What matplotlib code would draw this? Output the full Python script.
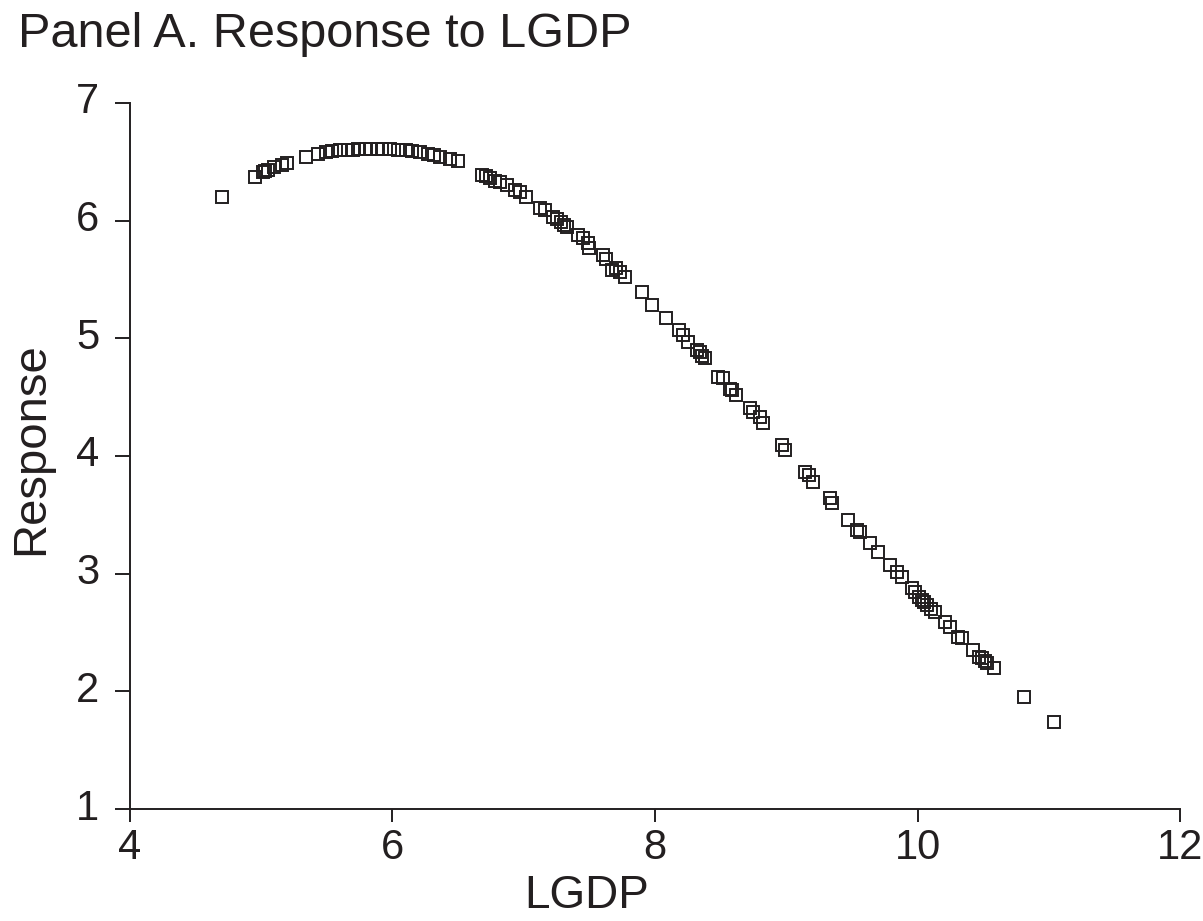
import matplotlib.pyplot as plt
import matplotlib.transforms as mtransforms

# Points (LGDP, Response)
lgdp = [
    4.70, 4.95, 5.01, 5.05, 5.10, 5.16, 5.20, 5.34, 5.43, 5.49,
    5.54, 5.60, 5.66, 5.74, 5.80, 5.84, 5.92, 5.98, 6.04, 6.10,
    6.15, 6.21, 6.27, 6.32, 6.36, 6.44, 6.50, 6.68, 6.74, 6.82,
    6.87, 6.93, 6.97, 7.02, 7.12, 7.16, 7.22, 7.28, 7.31, 7.41,
    7.45, 7.49, 7.50, 7.60, 7.63, 7.70, 7.73, 7.77, 7.90, 7.98,
    8.08, 8.18, 8.21, 8.25, 8.34, 8.38, 8.48, 8.52, 8.59, 8.62,
    8.72, 8.75, 8.80, 8.82, 8.97, 8.99, 9.14, 9.17, 9.20, 9.33,
    9.35, 9.47, 9.54, 9.56, 9.64, 9.70, 9.79, 9.84, 9.88, 9.96,
    10.03, 10.07, 10.13, 10.21, 10.25, 10.31, 10.34, 10.42, 10.49, 10.53,
    10.58, 10.81, 11.04,
    # extra overlapping points in dense clusters
    5.03, 5.70, 5.88, 6.71, 6.78, 7.25, 7.33, 7.67, 8.32, 8.36,
    8.57, 9.98, 10.01, 10.05, 10.10, 10.47, 10.51,
]
response = [
    6.20, 6.37, 6.41, 6.43, 6.46, 6.47, 6.49, 6.54, 6.57, 6.58,
    6.59, 6.60, 6.60, 6.61, 6.61, 6.61, 6.61, 6.61, 6.60, 6.60,
    6.59, 6.58, 6.57, 6.56, 6.54, 6.52, 6.51, 6.39, 6.36, 6.33,
    6.30, 6.26, 6.24, 6.20, 6.11, 6.09, 6.03, 5.99, 5.96, 5.88,
    5.85, 5.81, 5.77, 5.71, 5.67, 5.60, 5.56, 5.52, 5.39, 5.28,
    5.17, 5.07, 5.03, 4.97, 4.88, 4.83, 4.67, 4.66, 4.56, 4.52,
    4.41, 4.37, 4.33, 4.28, 4.09, 4.05, 3.86, 3.84, 3.78, 3.64,
    3.60, 3.46, 3.37, 3.35, 3.26, 3.18, 3.07, 3.01, 2.97, 2.88,
    2.78, 2.73, 2.67, 2.59, 2.55, 2.46, 2.45, 2.35, 2.28, 2.24,
    2.20, 1.95, 1.74,
    6.42, 6.60, 6.61, 6.38, 6.34, 6.01, 5.95, 5.58, 4.90, 4.85,
    4.57, 2.84, 2.80, 2.76, 2.70, 2.29, 2.26,
]

x_ticks = [4, 6, 8, 10, 12]
y_ticks = [1, 2, 3, 4, 5, 6, 7]

ink = "#231f20"

plt.rcParams.update(
    {
        "font.family": ["Liberation Sans", "DejaVu Sans"],
        "text.color": ink,
    }
)

fig = plt.figure(figsize=(12.03, 9.21), dpi=100)
ax = fig.add_axes([0.108, 0.1216, 0.873, 0.7666])

ax.plot(
    lgdp,
    response,
    linestyle="none",
    marker="s",
    markersize=8.5,
    markerfacecolor="none",
    markeredgecolor=ink,
    markeredgewidth=1.4,
)

ax.set_xlim(4, 12)
ax.set_ylim(1, 7)
ax.set_xticks(x_ticks)
ax.set_yticks(y_ticks)

# Only left and bottom spines
for side in ["top", "right"]:
    ax.spines[side].set_visible(False)
for side in ["left", "bottom"]:
    ax.spines[side].set_color(ink)
    ax.spines[side].set_linewidth(1.4)

ax.tick_params(colors=ink, labelsize=30, width=1.4, direction="out")
ax.tick_params(axis="x", length=9, pad=5)
ax.tick_params(axis="y", length=11, pad=11)

# y tick labels sit a little above their ticks in the reference
shift_up = mtransforms.ScaledTranslation(0, 0.05, fig.dpi_scale_trans)
for lab in ax.get_yticklabels():
    lab.set_transform(lab.get_transform() + shift_up)

ax.set_xlabel("LGDP", fontsize=33, color=ink)
ax.xaxis.set_label_coords(0.435, -0.092)
ax.set_ylabel("Response", fontsize=34, color=ink)
ax.yaxis.set_label_coords(-0.073, 0.51)

fig.text(0.015, 0.987, "Panel A. Response to LGDP", fontsize=35, color=ink,
         ha="left", va="top")

fig.savefig("out.png", dpi=100)
